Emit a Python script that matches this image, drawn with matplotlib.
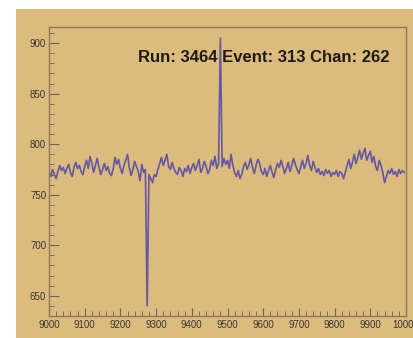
import numpy as np
import matplotlib
matplotlib.use("Agg")
import matplotlib.pyplot as plt
from matplotlib.ticker import MultipleLocator
from matplotlib.patches import Rectangle

# sample start and step of the waveform
t_start = 9000
t_step = 5

# ADC values in chunks of 100 ticks
adc_9000 = [772, 768, 775, 770, 766, 773, 779, 774, 777, 771, 776, 780, 772, 768, 777, 782, 776, 779, 773, 770]
adc_9100 = [778, 784, 776, 788, 781, 772, 779, 786, 777, 770, 775, 781, 774, 778, 771, 769, 776, 787, 780, 785]
adc_9200 = [776, 771, 779, 784, 790, 777, 769, 775, 783, 778, 773, 764, 780, 772, 775, 640, 770, 766, 762, 770]
adc_9300 = [768, 775, 781, 787, 779, 784, 790, 778, 775, 782, 776, 772, 770, 777, 774, 768, 776, 773, 779, 771]
adc_9400 = [777, 781, 774, 779, 785, 772, 776, 783, 778, 771, 775, 784, 779, 788, 776, 781, 905, 778, 786, 780]
adc_9500 = [784, 776, 790, 779, 772, 768, 774, 766, 770, 778, 782, 775, 780, 786, 777, 771, 779, 785, 781, 773]
adc_9600 = [770, 776, 768, 774, 779, 772, 767, 775, 781, 777, 784, 778, 771, 776, 782, 773, 779, 786, 780, 775]
adc_9700 = [771, 778, 784, 776, 781, 789, 779, 774, 783, 777, 772, 776, 770, 773, 769, 775, 771, 774, 768, 772]
adc_9800 = [770, 774, 768, 773, 771, 766, 772, 779, 785, 776, 782, 790, 781, 787, 794, 785, 791, 796, 784, 789]
adc_9900 = [793, 782, 788, 778, 774, 784, 779, 772, 762, 768, 774, 771, 776, 770, 773, 768, 775, 771, 774, 772]

run_label = "Run: 3464 Event: 313 Chan: 262"

adc = (adc_9000 + adc_9100 + adc_9200 + adc_9300 + adc_9400 +
       adc_9500 + adc_9600 + adc_9700 + adc_9800 + adc_9900)
ticks = t_start + t_step * np.arange(len(adc))

bg = '#dcbb7e'
plt.rcParams['font.family'] = ['Liberation Sans', 'DejaVu Sans']

fig = plt.figure(figsize=(4.14, 3.38), dpi=100, facecolor='white')
# tan canvas pad, white strip on top and left
fig.patches.append(Rectangle((16 / 414, 0), 1, 1 - 9 / 338, transform=fig.transFigure,
                             facecolor=bg, edgecolor='none', zorder=-10))

ax = fig.add_axes([49 / 414, 22 / 338, 357 / 414, 289 / 338])
ax.set_zorder(1)
ax.set_facecolor(bg)
ax.plot(ticks, adc, color='#5a4ca6', linewidth=1.2, alpha=0.9)

ax.set_xlim(9000, 10000)
ax.set_ylim(630, 916)

ax.xaxis.set_major_locator(MultipleLocator(100))
ax.xaxis.set_minor_locator(MultipleLocator(20))
ax.yaxis.set_major_locator(MultipleLocator(50))
ax.yaxis.set_minor_locator(MultipleLocator(10))

ax.tick_params(axis='both', which='both', direction='in', colors='#6e6250',
               labelcolor='#3a3530', labelsize=7)
ax.tick_params(axis='y', which='major', length=7, width=0.8, pad=2)
ax.tick_params(axis='x', which='major', length=6, width=0.8, pad=3)
ax.tick_params(axis='both', which='minor', length=3.5, width=0.6)

for s in ax.spines.values():
    s.set_color('#8a7a5c')
    s.set_linewidth(1.0)

fig.text(138 / 414, 1 - 58 / 338, run_label, fontsize=12, fontweight='bold',
         color='#1e1a16', ha='left', va='center', zorder=5)

fig.savefig('out.png', dpi=100, facecolor='white')
